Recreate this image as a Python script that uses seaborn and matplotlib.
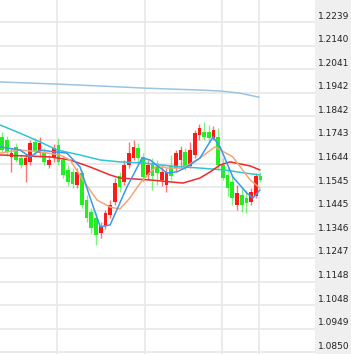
import numpy as np
import pandas as pd
import matplotlib
matplotlib.use("Agg")
import matplotlib.pyplot as plt
import seaborn as sns
from matplotlib.patches import Rectangle
from matplotlib.transforms import ScaledTranslation

# candle data (index 0..55)
opens = [1.1756, 1.1743, 1.1672, 1.1714, 1.1667, 1.1638, 1.1651, 1.1735, 1.1688, 1.1688,
         1.1638, 1.1667, 1.1722, 1.1659, 1.1617, 1.1609, 1.1554, 1.1604, 1.1491, 1.1441,
         1.1415, 1.1352, 1.1382, 1.1428, 1.1483, 1.1592, 1.1567, 1.1638, 1.1667, 1.1709,
         1.1672, 1.1596, 1.1646, 1.1634, 1.1575, 1.1554, 1.1634, 1.1625, 1.1659, 1.1693,
         1.1634, 1.1680, 1.1764, 1.1777, 1.1777, 1.1751, 1.1756, 1.1638, 1.1596, 1.1567,
         1.1470, 1.1512, 1.1499, 1.1483, 1.1508, 1.1592]
highs = [1.1777, 1.1760, 1.1709, 1.1730, 1.1684, 1.1680, 1.1743, 1.1751, 1.1756, 1.1709,
         1.1680, 1.1726, 1.1751, 1.1676, 1.1638, 1.1625, 1.1625, 1.1617, 1.1512, 1.1457,
         1.1436, 1.1399, 1.1449, 1.1491, 1.1583, 1.1609, 1.1659, 1.1735, 1.1743, 1.1730,
         1.1688, 1.1659, 1.1667, 1.1659, 1.1638, 1.1625, 1.1680, 1.1701, 1.1718, 1.1709,
         1.1735, 1.1785, 1.1810, 1.1819, 1.1806, 1.1802, 1.1793, 1.1667, 1.1625, 1.1596,
         1.1554, 1.1541, 1.1533, 1.1541, 1.1604, 1.1609]
lows = [1.1688, 1.1676, 1.1609, 1.1651, 1.1625, 1.1567, 1.1638, 1.1680, 1.1672, 1.1638,
        1.1625, 1.1651, 1.1638, 1.1583, 1.1550, 1.1541, 1.1541, 1.1457, 1.1399, 1.1352,
        1.1302, 1.1331, 1.1369, 1.1415, 1.1470, 1.1525, 1.1554, 1.1625, 1.1659, 1.1651,
        1.1567, 1.1575, 1.1533, 1.1554, 1.1550, 1.1525, 1.1575, 1.1609, 1.1625, 1.1617,
        1.1625, 1.1667, 1.1743, 1.1743, 1.1735, 1.1743, 1.1617, 1.1575, 1.1508, 1.1470,
        1.1449, 1.1441, 1.1436, 1.1470, 1.1499, 1.1567]
closes = [1.1701, 1.1693, 1.1688, 1.1659, 1.1638, 1.1667, 1.1730, 1.1693, 1.1730, 1.1651,
          1.1659, 1.1709, 1.1651, 1.1596, 1.1567, 1.1558, 1.1609, 1.1470, 1.1415, 1.1373,
          1.1344, 1.1382, 1.1436, 1.1470, 1.1562, 1.1546, 1.1638, 1.1688, 1.1714, 1.1667,
          1.1588, 1.1638, 1.1592, 1.1604, 1.1609, 1.1609, 1.1592, 1.1688, 1.1701, 1.1625,
          1.1701, 1.1772, 1.1793, 1.1756, 1.1751, 1.1785, 1.1638, 1.1583, 1.1541, 1.1499,
          1.1520, 1.1470, 1.1478, 1.1525, 1.1592, 1.1575]

# moving average lines, read at sample positions (candle index)
ma_long_x = [-0.4, 11.7, 20.9, 30.4, 42.1, 46.4, 50.6, 54.7]
ma_long_y = [1.1987, 1.1978, 1.1970, 1.1961, 1.1953, 1.1949, 1.1940, 1.1923]
ma_cyan_x = [-0.4, 3.8, 8.1, 11.7, 16.6, 20.9, 25.1, 30.4, 35.7, 42.1, 47.4, 51.7, 54.9]
ma_cyan_y = [1.1806, 1.1772, 1.1735, 1.1701, 1.1680, 1.1659, 1.1651, 1.1646, 1.1634,
             1.1625, 1.1617, 1.1604, 1.1596]
ma_red_x = [-0.4, 10.2, 14.5, 18.7, 23.0, 25.1, 31.5, 38.5, 42.1, 44.3, 46.4, 48.5, 52.8, 54.9]
ma_red_y = [1.1680, 1.1672, 1.1659, 1.1630, 1.1596, 1.1583, 1.1575, 1.1562, 1.1583,
            1.1609, 1.1638, 1.1651, 1.1634, 1.1617]
ma_orange_x = [-0.4, 3.8, 8.1, 12.3, 14.5, 17.2, 20.2, 23.0, 25.1, 27.2, 29.4, 33.0, 35.1,
               38.5, 42.1, 45.3, 49.1, 52.8, 54.9]
ma_orange_y = [1.1688, 1.1701, 1.1693, 1.1680, 1.1659, 1.1575, 1.1491, 1.1461, 1.1453,
               1.1499, 1.1562, 1.1638, 1.1625, 1.1625, 1.1667, 1.1714, 1.1672, 1.1575, 1.1541]
ma_blue_x = [-0.4, 3.8, 6.0, 8.1, 11.3, 13.8, 16.6, 18.7, 20.9, 23.0, 26.6, 29.8, 31.5,
             35.1, 37.2, 39.4, 42.1, 44.9, 46.4, 49.1, 52.1, 53.4, 54.9]
ma_blue_y = [1.1714, 1.1701, 1.1672, 1.1701, 1.1693, 1.1688, 1.1630, 1.1503, 1.1378,
             1.1386, 1.1546, 1.1667, 1.1659, 1.1604, 1.1609, 1.1630, 1.1667, 1.1756,
             1.1714, 1.1588, 1.1520, 1.1499, 1.1533]

price_ticks = [1.2239, 1.2140, 1.2041, 1.1942, 1.1842, 1.1743, 1.1644, 1.1545,
               1.1445, 1.1346, 1.1247, 1.1148, 1.1048, 1.0949, 1.0850]
vgrid_x = [11.7, 30.4, 46.8, 54.7]

sns.set_style("white")
plt.rcParams['font.family'] = ['DejaVu Sans']

fig = plt.figure(figsize=(3.51, 3.54), dpi=100)
ax = fig.add_axes([0, 0, 315 / 351, 1])
fig.patches.append(Rectangle((315 / 351, 0), 36 / 351, 1, transform=fig.transFigure,
                             color='#efefef', zorder=-5))

df = pd.DataFrame({'o': opens, 'h': highs, 'l': lows, 'c': closes})
df['i'] = np.arange(len(df))
up = df['c'] >= df['o']
colors = np.where(up, '#ff1a1a', '#22ee22')

# grid
for p in price_ticks:
    ax.axhline(p, color='#e8e8e8', lw=1.2, zorder=0)
for v in vgrid_x:
    ax.axvline(v, color='#e8e8e8', lw=1.2, zorder=0)

# candles
ax.vlines(df['i'], df['l'], df['h'], colors=colors, lw=1, alpha=0.6, zorder=2)
ax.bar(df['i'], (df['c'] - df['o']).abs().clip(lower=0.0003), bottom=df[['o', 'c']].min(axis=1),
       width=0.8, color=colors, edgecolor='none', zorder=3)

# moving averages
lines = [(ma_long_x, ma_long_y, '#9cc4e0'), (ma_cyan_x, ma_cyan_y, '#2fc6d4'),
         (ma_red_x, ma_red_y, '#ee2a2a'), (ma_orange_x, ma_orange_y, '#f0a87a'),
         (ma_blue_x, ma_blue_y, '#3a98f0')]
for xs, ys, col in lines:
    sns.lineplot(x=xs, y=ys, color=col, lw=1.1, ax=ax, zorder=4, sort=False)

ax.set_xlim(-0.43, 66.6)
ax.set_ylim(1.08434, 1.23315)
ax.set_xticks([])
ax.yaxis.tick_right()
ax.set_yticks(price_ticks)
ax.set_yticklabels([f"{p:.4f}" for p in price_ticks])
ax.tick_params(axis='y', length=0, pad=2, labelsize=6.5, labelcolor='#222222')
off = ScaledTranslation(0, 7 / 100, fig.dpi_scale_trans)
for lab in ax.get_yticklabels():
    lab.set_transform(lab.get_transform() + off)
for s in ax.spines.values():
    s.set_visible(False)
ax.grid(False)

fig.savefig("out.png", dpi=100)
